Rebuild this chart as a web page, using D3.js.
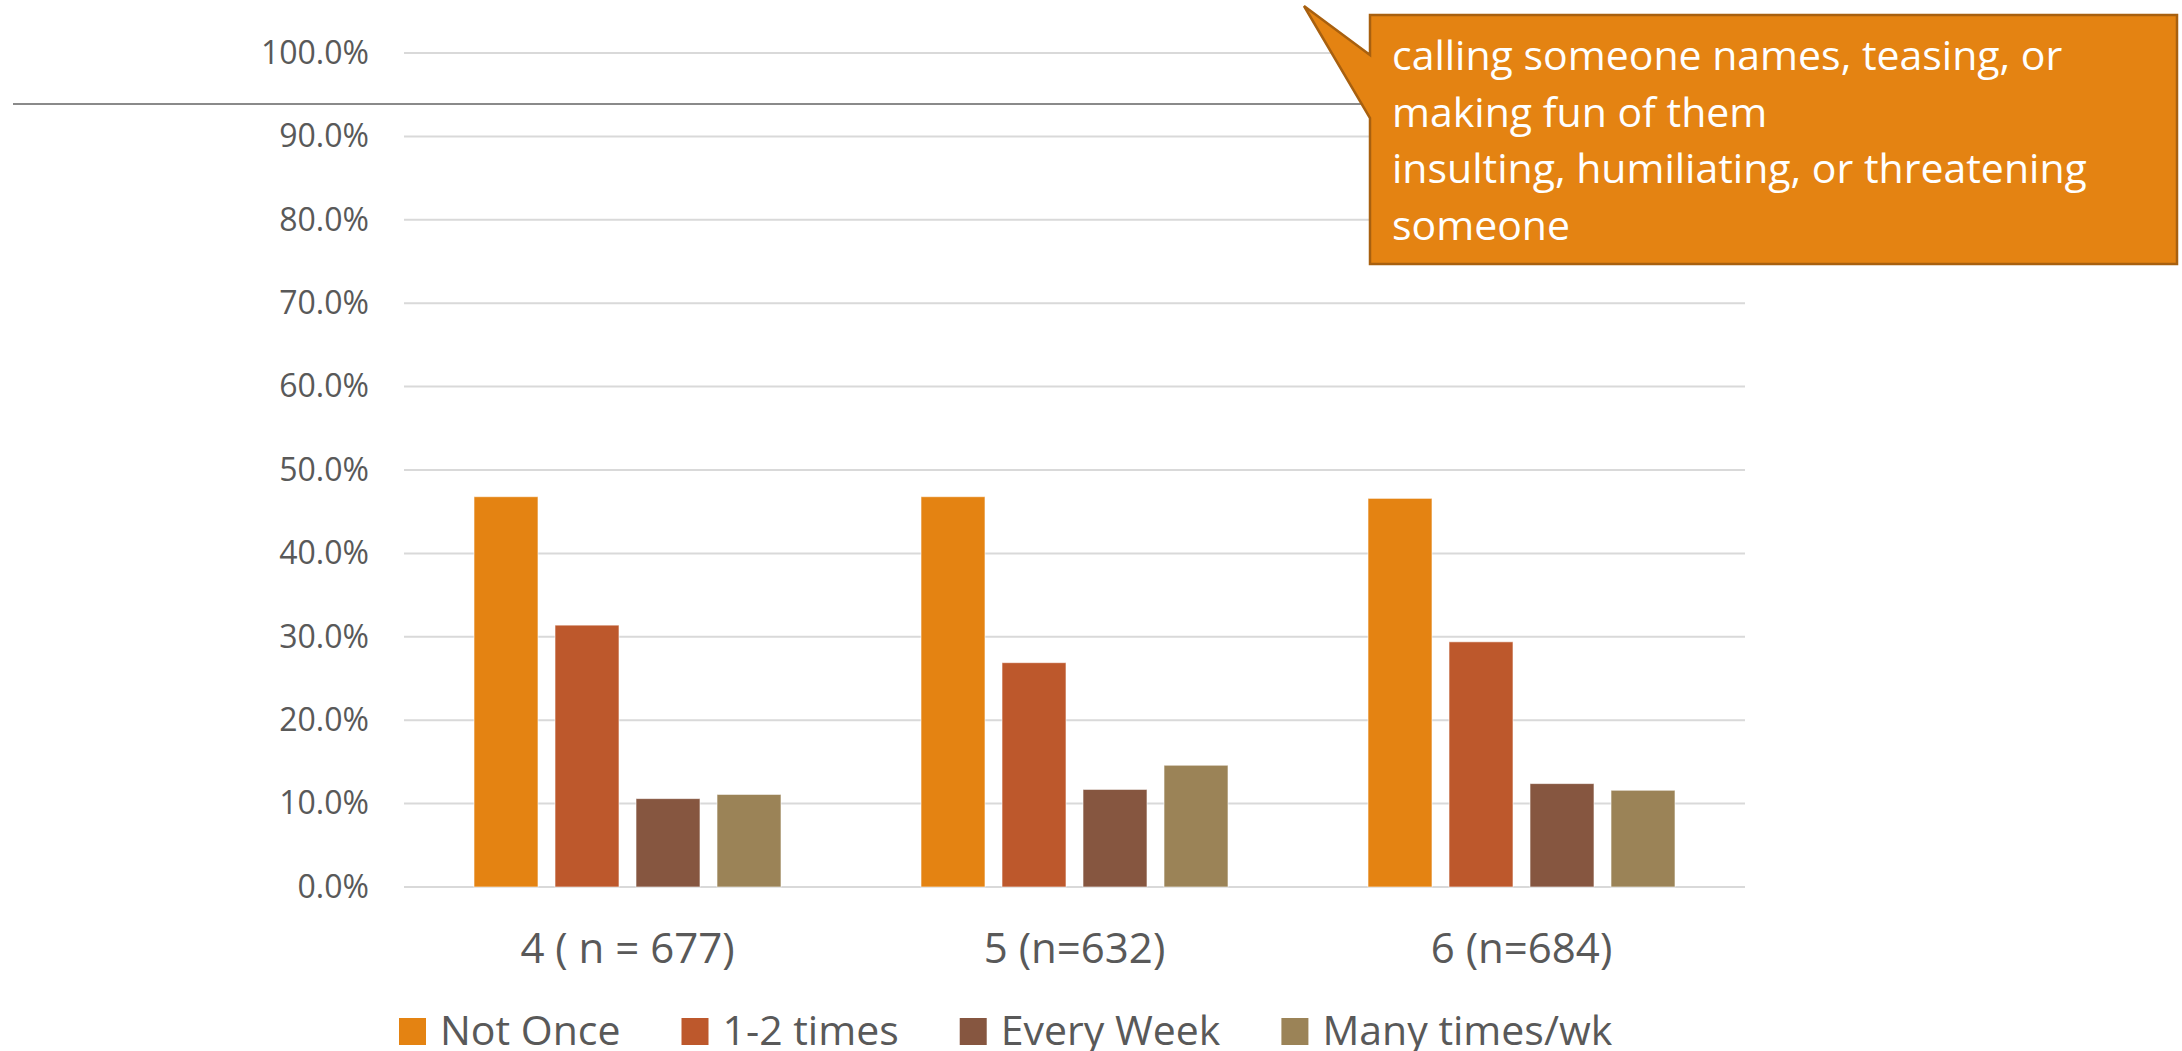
<!DOCTYPE html>
<html>
<head>
<meta charset="utf-8">
<script src="https://cdn.jsdelivr.net/npm/d3@7"></script>
<style>
  html, body { margin: 0; padding: 0; background: #ffffff; }
  svg { display: block; }
</style>
</head>
<body>
<svg id="chart" width="2182" height="1051"></svg>
<script>
// Grade groups and answer categories
const categories = ["4 ( n = 677)", "5 (n=632)", "6 (n=684)"];
const seriesNames = ["Not Once", "1-2 times", "Every Week", "Many times/wk"];

// Share of students per answer, in percent
const notOnce   = [46.8, 46.8, 46.6];
const oneTwo    = [31.4, 26.9, 29.4];
const everyWeek = [10.6, 11.7, 12.4];
const manyTimes = [11.1, 14.6, 11.6];

const yTicks = [0, 10, 20, 30, 40, 50, 60, 70, 80, 90, 100];
const calloutLines = [
  "calling someone names, teasing, or",
  "making fun of them",
  "insulting, humiliating, or threatening",
  "someone"
];

const colors = ["#E48312", "#BD582C", "#865640", "#9B8357"];
const seriesValues = [notOnce, oneTwo, everyWeek, manyTimes];

const rows = categories.map((c, i) => ({
  category: c,
  values: seriesNames.map((s, k) => ({ series: s, value: seriesValues[k][i] }))
}));

const svg = d3.select("#chart");
const font = "'Open Sans', 'Noto Sans', sans-serif";
const textColor = "#595959";

const plot = { left: 404, right: 1745, top: 53, bottom: 887 };

const y = d3.scaleLinear().domain([0, 100]).range([plot.bottom, plot.top]);
const x0 = d3.scaleBand().domain(categories).range([plot.left, plot.right]).padding(0);
const groupPad = 70;
const x1 = d3.scaleBand().domain(seriesNames)
  .range([groupPad, x0.bandwidth() - groupPad])
  .paddingInner(0.21).paddingOuter(0);
const color = d3.scaleOrdinal().domain(seriesNames).range(colors);

// Horizontal gridlines
svg.append("g")
  .selectAll("line")
  .data(yTicks)
  .join("line")
  .attr("x1", plot.left).attr("x2", plot.right)
  .attr("y1", d => y(d)).attr("y2", d => y(d))
  .attr("stroke", "#d9d9d9").attr("stroke-width", 2);

// Y axis labels
const yAxis = d3.axisLeft(y).tickValues(yTicks)
  .tickFormat(d => d3.format(".1f")(d) + "%").tickSize(0).tickPadding(35);
const yg = svg.append("g").attr("transform", `translate(${plot.left},0)`).call(yAxis);
yg.select(".domain").remove();
yg.selectAll("text")
  .attr("font-family", font).attr("font-size", 32).attr("fill", textColor);

// Bars
svg.append("g")
  .selectAll("g")
  .data(rows)
  .join("g")
  .attr("transform", d => `translate(${x0(d.category)},0)`)
  .selectAll("rect")
  .data(d => d.values)
  .join("rect")
  .attr("x", d => x1(d.series))
  .attr("width", x1.bandwidth())
  .attr("y", d => y(d.value))
  .attr("height", d => y(0) - y(d.value))
  .attr("fill", d => color(d.series))
  .attr("stroke", "#ffffff").attr("stroke-opacity", 0.6).attr("stroke-width", 1);

// Category labels
const xAxis = d3.axisBottom(x0).tickSize(0).tickPadding(0);
const xg = svg.append("g").attr("transform", `translate(0,${plot.bottom})`).call(xAxis);
xg.select(".domain").remove();
xg.selectAll("text")
  .attr("font-family", font).attr("font-size", 42).attr("fill", textColor)
  .attr("dy", null).attr("y", 76);

// Legend
const legend = svg.append("g").attr("transform", "translate(399,0)");
let lx = 0;
seriesNames.forEach((s, i) => {
  const g = legend.append("g").attr("transform", `translate(${lx},0)`);
  g.append("rect").attr("x", 0).attr("y", 1018).attr("width", 27).attr("height", 27)
    .attr("fill", color(s));
  const t = g.append("text").attr("x", 41).attr("y", 1045)
    .attr("font-family", font).attr("font-size", 41).attr("fill", textColor).text(s);
  lx += 41 + t.node().getComputedTextLength() + 61;
});

// Thin rule across the top of the chart
svg.append("line")
  .attr("x1", 13).attr("x2", 1372).attr("y1", 104).attr("y2", 104)
  .attr("stroke", "#8a8a8a").attr("stroke-width", 2);

// Callout box with pointer
const cx0 = 1370, cx1 = 2177, cy0 = 15, cy1 = 264;
const calloutPath = d3.path();
calloutPath.moveTo(cx0, cy0);
calloutPath.lineTo(cx1, cy0);
calloutPath.lineTo(cx1, cy1);
calloutPath.lineTo(cx0, cy1);
calloutPath.lineTo(cx0, 118);
calloutPath.lineTo(1304, 6);
calloutPath.lineTo(cx0, 55);
calloutPath.closePath();
svg.append("path").attr("d", calloutPath.toString())
  .attr("fill", "#E48312").attr("stroke", "#A8600F").attr("stroke-width", 2.5)
  .attr("stroke-linejoin", "miter");

svg.append("g").selectAll("text")
  .data(calloutLines)
  .join("text")
  .attr("x", 1392)
  .attr("y", (d, i) => 70 + i * 56.7)
  .attr("font-family", font).attr("font-size", 41).attr("fill", "#ffffff")
  .text(d => d);
</script>
</body>
</html>
